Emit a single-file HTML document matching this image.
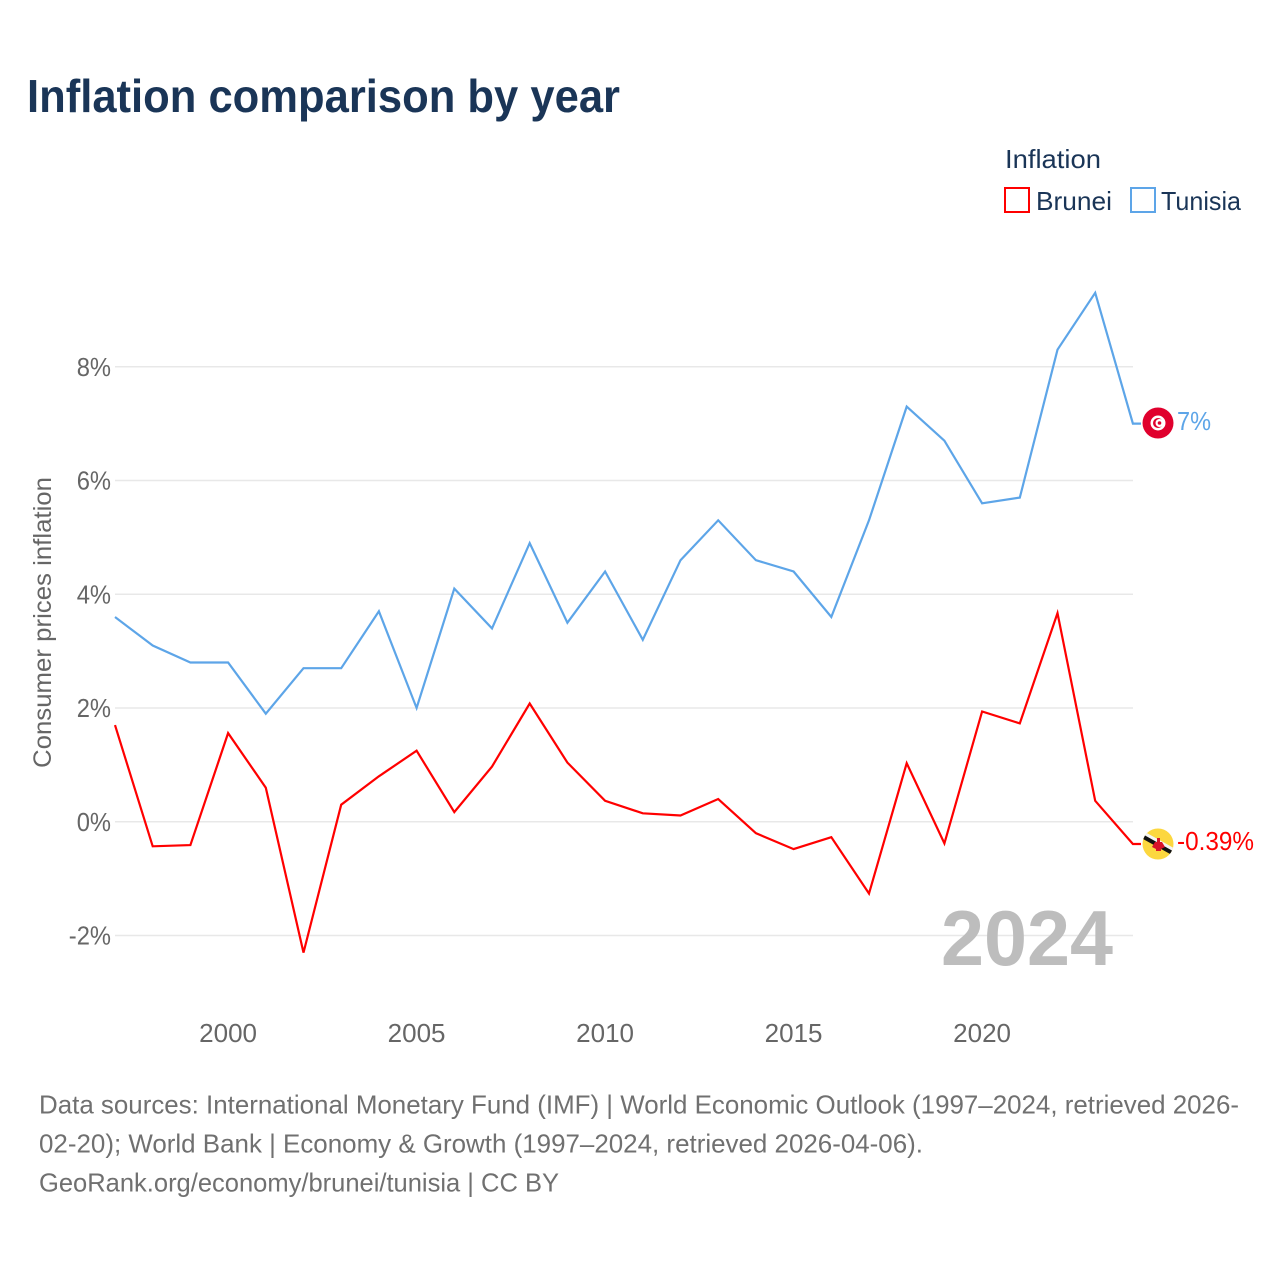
<!DOCTYPE html>
<html lang="en">
<head>
<meta charset="utf-8">
<title>Inflation comparison by year</title>
<style>
html,body{margin:0;padding:0;background:#fff}
svg{display:block}
text{font-family:"Liberation Sans",sans-serif}
</style>
</head>
<body>
<svg id="chart" width="1280" height="1280" viewBox="0 0 1280 1280" xmlns="http://www.w3.org/2000/svg">
  <text x="27" y="112" font-size="46" font-weight="700" fill="#1a3557" textLength="593" lengthAdjust="spacingAndGlyphs">Inflation comparison by year</text>

  <g>
    <text x="1005" y="168" font-size="26" fill="#1a3557" textLength="96" lengthAdjust="spacingAndGlyphs">Inflation</text>
    <rect x="1005" y="188" width="24" height="24" fill="#fff" stroke="#ff0000" stroke-width="2"/>
    <text x="1036" y="210" font-size="26" fill="#1a3557" textLength="76" lengthAdjust="spacingAndGlyphs">Brunei</text>
    <rect x="1131" y="188" width="24" height="24" fill="#fff" stroke="#5da5e8" stroke-width="2"/>
    <text x="1161" y="210" font-size="26" fill="#1a3557" textLength="80" lengthAdjust="spacingAndGlyphs">Tunisia</text>
  </g>

  <g id="grid"></g>
  <g id="yticks"></g>
  <g id="xticks"></g>

  <text transform="translate(51,768) rotate(-90)" x="0" y="0" font-size="25" fill="#666666" textLength="291" lengthAdjust="spacingAndGlyphs">Consumer prices inflation</text>

  <text x="941" y="965" font-size="78" font-weight="700" fill="#bdbdbd" textLength="172" lengthAdjust="spacingAndGlyphs">2024</text>

  <g id="series"></g>

  <g id="flag-tunisia">
    <circle cx="1158" cy="423" r="15.5" fill="#e0002d"/>
    <circle cx="1158" cy="423" r="7.5" fill="#fff"/>
    <circle cx="1158" cy="423" r="5" fill="#e0002d"/>
    <circle cx="1159.5" cy="423" r="4" fill="#fff"/>
    <circle cx="1159.5" cy="423" r="1.8" fill="#e0002d"/>
  </g>
  <text id="label-tunisia" x="1177" y="430" font-size="26" fill="#5da5e8" textLength="34" lengthAdjust="spacingAndGlyphs">7%</text>

  <g id="flag-brunei">
    <clipPath id="brunei-clip"><circle cx="1158" cy="844" r="15.5"/></clipPath>
    <circle cx="1158" cy="844" r="15.5" fill="#fcd73f"/>
    <g clip-path="url(#brunei-clip)">
      <line x1="1140" y1="831.5" x2="1176" y2="851.5" stroke="#f4f4f4" stroke-width="4"/>
      <line x1="1140" y1="835" x2="1176" y2="855" stroke="#111111" stroke-width="4"/>
    </g>
    <path d="M1157 838h3v4h2l3 5-4 2v2h-5v-2l-4-2 3-5h2z" fill="#d8122a"/>
  </g>
  <text id="label-brunei" x="1177" y="850" font-size="26" fill="#ff0000" textLength="77" lengthAdjust="spacingAndGlyphs">-0.39%</text>

  <g font-size="26" fill="#707070">
    <text x="39" y="1113.5" textLength="1200" lengthAdjust="spacingAndGlyphs">Data sources: International Monetary Fund (IMF) | World Economic Outlook (1997–2024, retrieved 2026-</text>
    <text x="39" y="1152.5" textLength="884" lengthAdjust="spacingAndGlyphs">02-20); World Bank | Economy &amp; Growth (1997–2024, retrieved 2026-04-06).</text>
    <text x="39" y="1191.5" textLength="520" lengthAdjust="spacingAndGlyphs">GeoRank.org/economy/brunei/tunisia | CC BY</text>
  </g>
</svg>
<script>
var years = [1997,1998,1999,2000,2001,2002,2003,2004,2005,2006,2007,2008,2009,2010,2011,2012,2013,2014,2015,2016,2017,2018,2019,2020,2021,2022,2023,2024];
var tunisiaValues = [3.6,3.1,2.8,2.8,1.9,2.7,2.7,3.7,2.0,4.1,3.4,4.9,3.5,4.4,3.2,4.6,5.3,4.6,4.4,3.6,5.3,7.3,6.7,5.6,5.7,8.3,9.3,7.0];
var bruneiValues = [1.7,-0.43,-0.41,1.56,0.6,-2.3,0.3,0.8,1.25,0.17,0.97,2.08,1.04,0.37,0.15,0.11,0.4,-0.2,-0.48,-0.27,-1.26,1.03,-0.38,1.94,1.73,3.67,0.37,-0.39];
var yTickValues = [-2,0,2,4,6,8];
var yTickLabels = ['-2%','0%','2%','4%','6%','8%'];
var xTickValues = [2000,2005,2010,2015,2020];
var xTickLabels = ['2000','2005','2010','2015','2020'];

var NS = 'http://www.w3.org/2000/svg';
function xScale(year){ return 115 + (year - 1997) * 37.7; }
function yScale(value){ return 821.8 - value * 56.88; }
function make(tag, attrs, parent){
  var el = document.createElementNS(NS, tag);
  for (var k in attrs) el.setAttribute(k, attrs[k]);
  parent.appendChild(el);
  return el;
}
var gridG = document.getElementById('grid');
var yG = document.getElementById('yticks');
var xG = document.getElementById('xticks');
var seriesG = document.getElementById('series');

yTickValues.forEach(function(v, i){
  var line = make('line', {x1:115, x2:1133, y1:yScale(v), y2:yScale(v), stroke:'#e8e8e8', 'stroke-width':1.5}, gridG);
  
  
  var t = make('text', {x:111, y:yScale(v)+9, 'text-anchor':'end', 'font-size':25.5, fill:'#666666'}, yG);
  
  
  t.textContent = yTickLabels[i];
  t.setAttribute('lengthAdjust', 'spacingAndGlyphs');
  t.setAttribute('textLength', (t.getComputedTextLength() * 0.93).toFixed(1));
});
xTickValues.forEach(function(v, i){
  var t = make('text', {x:xScale(v), y:1042, 'text-anchor':'middle', 'font-size':26, fill:'#666666'}, xG);
  
  
  t.textContent = xTickLabels[i];
});
function drawSeries(values, color, name){
  var pts = values.map(function(v, i){ return xScale(years[i]).toFixed(1) + ',' + yScale(v).toFixed(1); });
  var last = values[values.length - 1];
  pts.push('1141,' + yScale(last).toFixed(1));
  var line = make('polyline', {points:pts.join(' '), fill:'none', stroke:color, 'stroke-width':2.2, 'stroke-linejoin':'miter'}, seriesG);
  
  
}
drawSeries(bruneiValues, '#ff0000', 'brunei-line');
drawSeries(tunisiaValues, '#5da5e8', 'tunisia-line');
</script>
</body>
</html>
